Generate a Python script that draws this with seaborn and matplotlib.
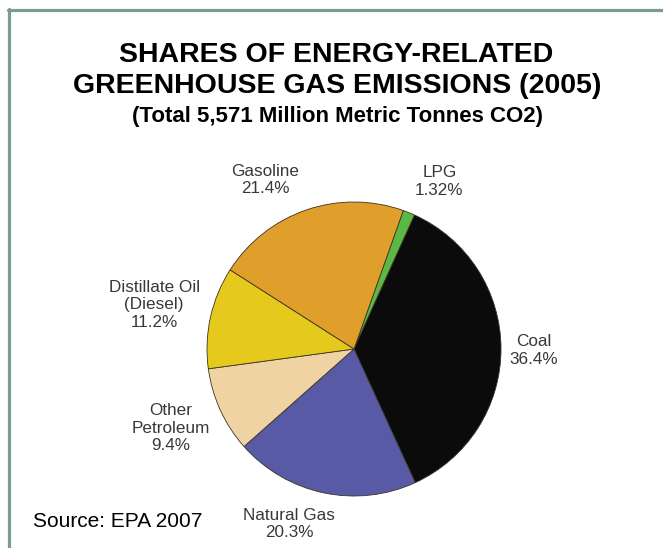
import seaborn as sns
import matplotlib.pyplot as plt
from matplotlib.lines import Line2D

# Datos
categorias = ["LPG", "Coal", "Natural Gas", "Other\nPetroleum", "Distillate Oil\n(Diesel)", "Gasoline"]
valores = [1.32, 36.4, 20.3, 9.4, 11.2, 21.4]
etiquetas_pct = ["1.32%", "36.4%", "20.3%", "9.4%", "11.2%", "21.4%"]
colores = ["#5cb844", "#0b0b0b", "#585aa5", "#f0d3a2", "#e5c91c", "#e09f2a"]

# Posición de cada etiqueta (en radios del pastel, respecto al centro)
pos_etiquetas = [(0.58, 1.14), (1.22, -0.01), (-0.44, -1.19),
                 (-1.245, -0.54), (-1.36, 0.30), (-0.605, 1.15)]

sns.set_theme(style="white")
plt.rcParams["font.family"] = ["Liberation Sans", "DejaVu Sans"]

fig = plt.figure(figsize=(6.63, 5.48), dpi=100)
W, H = 663, 548
cx, cy, r = 354, 349, 147
ax = fig.add_axes([(cx - r) / W, (H - cy - r) / H, 2 * r / W, 2 * r / H])

wedges, _ = ax.pie(valores, colors=colores, startangle=70.4, counterclock=False,
                   wedgeprops={"edgecolor": "#3a3325", "linewidth": 0.6})
ax.set_xlim(-1, 1)
ax.set_ylim(-1, 1)
ax.set_aspect("equal")
ax.axis("off")

# Etiquetas fuera del pastel
for cat, pct, (x, y) in zip(categorias, etiquetas_pct, pos_etiquetas):
    ax.text(x, y, f"{cat}\n{pct}", ha="center", va="center",
            fontsize=12.3, color="#383838", linespacing=1.2)

# Títulos
def fy(py):
    return 1 - py / H

fig.text(336 / W, fy(62), "SHARES OF ENERGY-RELATED", ha="center", va="baseline",
         fontsize=20.5, fontweight="bold", color="black")
fig.text(337 / W, fy(93), "GREENHOUSE GAS EMISSIONS (2005)", ha="center", va="baseline",
         fontsize=20.5, fontweight="bold", color="black")
fig.text(338 / W, fy(122), "(Total 5,571 Million Metric Tonnes CO2)", ha="center", va="baseline",
         fontsize=16, fontweight="bold", color="black")
fig.text(33 / W, fy(527), "Source: EPA 2007", ha="left", va="baseline", fontsize=15, color="black")

# Marco (izquierda y arriba)
borde = "#7a9e8e"
fig.add_artist(Line2D([9 / W, 9 / W], [0, fy(8.8)], color=borde, lw=2.3, transform=fig.transFigure))
fig.add_artist(Line2D([7.5 / W, 1], [fy(10.3), fy(10.3)], color=borde, lw=2.3, transform=fig.transFigure))

fig.savefig("out.png", dpi=100)
